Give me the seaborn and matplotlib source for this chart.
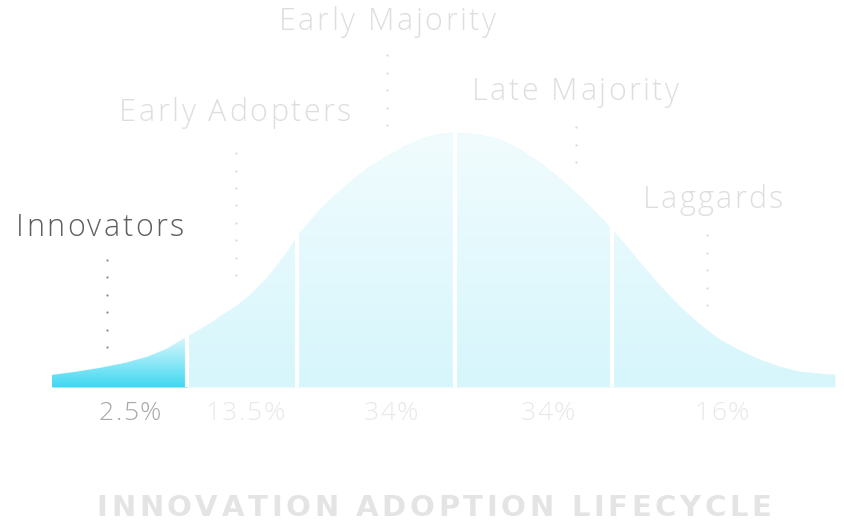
import numpy as np
import matplotlib
matplotlib.use("Agg")
import matplotlib.pyplot as plt
import seaborn as sns
from matplotlib.colors import LinearSegmentedColormap

sns.set_theme(style="white")
plt.rcParams['font.family'] = ['Open Sans', 'DejaVu Sans']

# ---- data ----
curve_x = [52, 75, 100, 125, 147, 167, 187, 205, 220, 237, 253, 270, 287, 297,
           308, 320, 337, 353, 370, 387, 404, 420, 437, 455, 478, 500, 520, 540,
           560, 580, 597, 612, 626, 640, 660, 680, 700, 720, 740, 760, 780, 800,
           820, 835]
curve_h = [12, 15, 19, 24, 30, 38, 50, 60, 70, 81, 94, 112, 134, 150,
           163, 177, 193, 207, 220, 230, 240, 247, 252, 254, 252, 247, 237, 224,
           208, 190, 173, 157, 141, 124, 101, 80, 62, 47, 36, 27, 20, 15,
           13, 12]
boundaries = [187, 297, 455, 612]
categories = ["Innovators", "Early Adopters", "Early Majority", "Late Majority", "Laggards"]
shares = ["2.5%", "13.5%", "34%", "34%", "16%"]
title = "INNOVATION ADOPTION LIFECYCLE"

# label layout
label_x = [100, 235, 387, 575, 713]
label_y = [159, 274, 365, 295, 187]
dot_x = [107, 236, 387, 576, 707]
dot_top = [127, 237, 332, 262, 154]
dot_bot = [40, 112, 262, 225, 82]
share_x = [130, 245, 391, 548, 722]
label_colors = ["#5e5e5e", "#dedede", "#dedede", "#dedede", "#dedede"]
dot_colors = ["#8a8a8a", "#d8d8d8", "#d8d8d8", "#d8d8d8", "#d8d8d8"]
share_colors = ["#a8a8a8", "#e8e8e8", "#e8e8e8", "#e8e8e8", "#e8e8e8"]

fig = plt.figure(figsize=(8.44, 5.24), dpi=100)
ax = fig.add_axes([0, 0, 1, 1])
ax.set_xlim(0, 844)
ax.set_ylim(-137, 387)
ax.axis("off")
renderer = fig.canvas.get_renderer()


def spaced_text(xc, yc, s, spacing, **kw):
    """Draw text centred at (xc, yc) with extra letter spacing (data units)."""
    inv = ax.transData.inverted()
    widths = []
    for ch in s:
        t = ax.text(0, 0, ch if ch != " " else "n", **kw)
        bb = t.get_window_extent(renderer)
        w = inv.transform((bb.x1, 0))[0] - inv.transform((bb.x0, 0))[0]
        if ch == " ":
            w *= 0.5
        widths.append(w)
        t.remove()
    total = sum(widths) + spacing * (len(s) - 1)
    cx = xc - total / 2
    for ch, w in zip(s, widths):
        if ch != " ":
            ax.text(cx, yc, ch, ha="left", va="center", **kw)
        cx += w + spacing


x = np.array(curve_x, dtype=float)
h = np.array(curve_h, dtype=float)

# full curve fill (light)
poly = ax.fill_between(x, 0, h, color="#ddf8fc", lw=0, zorder=1)
sns.lineplot(x=x, y=h, ax=ax, color="#e9fafd", lw=1, zorder=2)

# gradient over the whole curve
light_cmap = LinearSegmentedColormap.from_list("lc", ["#d6f6fc", "#f1fcfe"])
grad = np.linspace(0, 1, 256).reshape(-1, 1)
im = ax.imshow(grad, extent=[x.min(), x.max(), 0, h.max()], origin="lower",
               cmap=light_cmap, aspect="auto", zorder=2)
im.set_clip_path(poly.get_paths()[0], transform=ax.transData)

# innovators segment (bright)
mask = x <= boundaries[0]
poly_inn = ax.fill_between(x[mask], 0, h[mask], color="#4fdcf2", lw=0, zorder=3)
inn_cmap = LinearSegmentedColormap.from_list("ic", ["#3fd8f1", "#8fe8f7", "#d8f7fc"])
im2 = ax.imshow(grad, extent=[x.min(), boundaries[0], 0, h[mask].max()], origin="lower",
                cmap=inn_cmap, aspect="auto", zorder=3)
im2.set_clip_path(poly_inn.get_paths()[0], transform=ax.transData)

# white separators
for b in boundaries:
    ax.vlines(b, 0, h.max() + 5, color="white", lw=3, zorder=4)

# category labels with dotted leaders
for i, cat in enumerate(categories):
    spaced_text(label_x[i], label_y[i], cat, 2.4, fontsize=22,
                fontweight="light", color=label_colors[i], zorder=6)
    ys = np.arange(dot_bot[i], dot_top[i] + 1, 17.4)
    ax.scatter(np.full_like(ys, dot_x[i]), ys, s=2.5, color=dot_colors[i],
               zorder=6, linewidths=0)

# shares
for i, s in enumerate(shares):
    spaced_text(share_x[i], -27, s, 1.5, fontsize=19,
                fontweight="light", color=share_colors[i], zorder=6)

# title
spaced_text(434, -121, title, 3.6, fontsize=21, fontweight="bold",
            color="#e4e4e4", zorder=6, family=["DejaVu Sans"])

fig.savefig("out.png", dpi=100, facecolor="white")
